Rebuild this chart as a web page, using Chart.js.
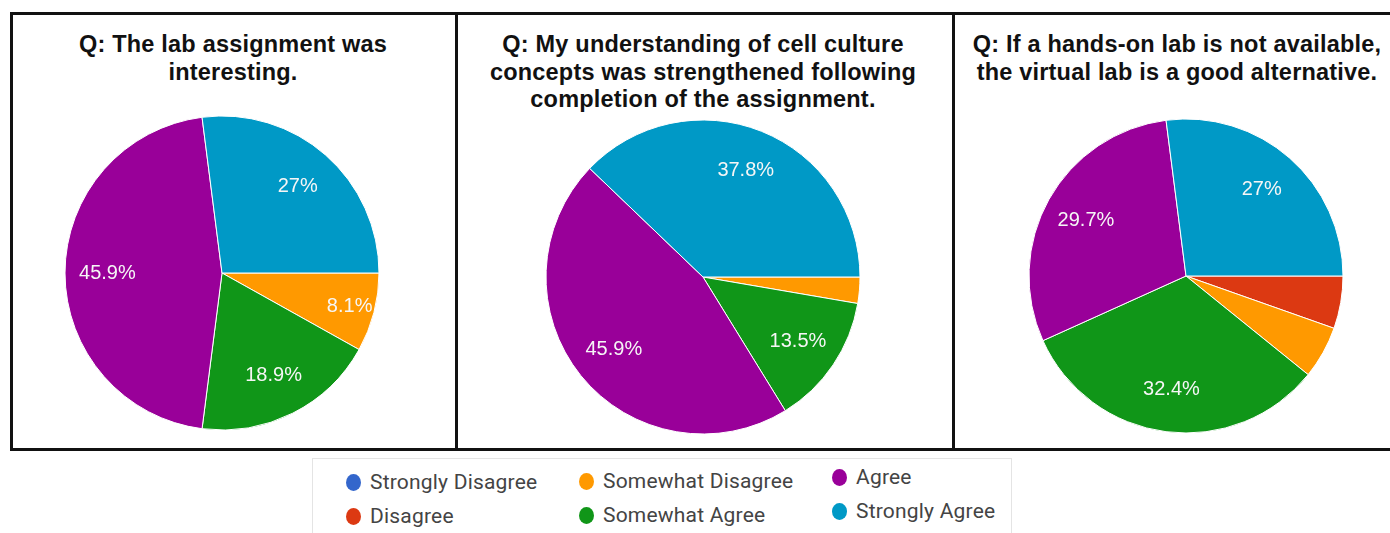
<!DOCTYPE html>
<html>
<head>
<meta charset="utf-8">
<script src="https://cdn.jsdelivr.net/npm/chart.js@4"></script>
<style>
  body { margin: 0; background: #fff; width: 1390px; height: 533px; position: relative; overflow: hidden; font-family: "Liberation Sans", Arial, sans-serif; }
  .line { position: absolute; background: #111; }
  .title { position: absolute; font-weight: bold; font-size: 23.5px; letter-spacing: 0.2px; line-height: 27.5px; color: #111; text-align: center; white-space: nowrap; transform: translateX(-50%); }
  .pie { position: absolute; }
  .legend { position: absolute; left: 312px; top: 458px; width: 700px; height: 76px; border: 1px solid #e4e4e4; box-sizing: border-box; }
  .item { position: absolute; font-family: Roboto, "Liberation Sans", Arial, sans-serif; font-size: 21px; letter-spacing: 0.2px; color: #444; white-space: nowrap; line-height: 22px; }
  .dot { position: absolute; width: 15px; height: 17px; border-radius: 50%; left: -24px; top: 3px; }
</style>
</head>
<body>
<!-- panel frames -->
<div class="line" style="left:10px; top:12px; width:1380px; height:3px;"></div>
<div class="line" style="left:10px; top:448px; width:1380px; height:2.5px;"></div>
<div class="line" style="left:10px; top:12px; width:3px; height:438px;"></div>
<div class="line" style="left:455px; top:12px; width:2.5px; height:438px;"></div>
<div class="line" style="left:952px; top:12px; width:2.5px; height:438px;"></div>

<div id="titles"></div>
<canvas id="pie1" class="pie" width="340" height="340"></canvas>
<canvas id="pie2" class="pie" width="340" height="340"></canvas>
<canvas id="pie3" class="pie" width="340" height="340"></canvas>
<div class="legend" id="legend"></div>

<script>
// Answer categories (legend order, drawn clockwise from 3 o'clock)
const categories = ['Strongly Disagree', 'Disagree', 'Somewhat Disagree', 'Somewhat Agree', 'Agree', 'Strongly Agree'];
const colors = ['#3366cc', '#dc3912', '#ff9900', '#109618', '#990099', '#0099c6'];

// Percent of responses per question
const interesting = [0, 0, 8.1, 18.9, 45.9, 27];
const understanding = [0, 0, 2.7, 13.5, 45.9, 37.8];
const alternative = [0, 5.4, 5.4, 32.4, 29.7, 27];

const titles = [
    ['Q: The lab assignment was', 'interesting.'],
    ['Q: My understanding of cell culture', 'concepts was strengthened following', 'completion of the assignment.'],
    ['Q: If a hands-on lab is not available,', 'the virtual lab is a good alternative.']
];

// Panel layout
const panels = [
    { id: 'pie1', data: interesting, cx: 222, cy: 273, titleX: 233 },
    { id: 'pie2', data: understanding, cx: 703, cy: 277, titleX: 703 },
    { id: 'pie3', data: alternative, cx: 1186, cy: 276, titleX: 1177 }
];
const RADIUS = 157;

// Percent labels inside slices
const sliceLabels = {
    id: 'sliceLabels',
    afterDatasetsDraw(chart) {
        const ctx = chart.ctx;
        const values = chart.data.datasets[0].data;
        ctx.save();
        ctx.fillStyle = '#f6f6f6';
        ctx.font = '20px "Liberation Sans", Arial, sans-serif';
        ctx.textAlign = 'center';
        ctx.textBaseline = 'middle';
        chart.getDatasetMeta(0).data.forEach((arc, i) => {
            if (values[i] < 7) return;
            const mid = (arc.startAngle + arc.endAngle) / 2;
            const r = arc.outerRadius * (values[i] < 10 ? 0.84 : 0.73);
            ctx.fillText(values[i] + '%', arc.x + Math.cos(mid) * r, arc.y + Math.sin(mid) * r);
        });
        ctx.restore();
    }
};

function drawTitles() {
    const holder = document.getElementById('titles');
    panels.forEach((p, i) => {
        const div = document.createElement('div');
        div.className = 'title';
        div.style.left = p.titleX + 'px';
        div.style.top = '31px';
        div.innerHTML = titles[i].join('<br>');
        holder.appendChild(div);
    });
}

function drawPie(p) {
    const canvas = document.getElementById(p.id);
    canvas.style.left = (p.cx - 170) + 'px';
    canvas.style.top = (p.cy - 170) + 'px';
    new Chart(canvas.getContext('2d'), {
        type: 'pie',
        data: {
            labels: categories,
            datasets: [{
                data: p.data,
                backgroundColor: colors,
                borderColor: '#ffffff',
                borderWidth: 1,
                radius: RADIUS
            }]
        },
        options: {
            responsive: false,
            animation: false,
            rotation: 90,
            plugins: {
                legend: { display: false },
                tooltip: { enabled: false }
            }
        },
        plugins: [sliceLabels]
    });
}

// Shared legend: three columns of two
function drawLegend() {
    const legend = document.getElementById('legend');
    const cols = [
        { x: 57, y: 12 },
        { x: 290, y: 11 },
        { x: 543, y: 7 }
    ];
    categories.forEach((name, i) => {
        const col = cols[Math.floor(i / 2)];
        const item = document.createElement('div');
        item.className = 'item';
        item.style.left = col.x + 'px';
        item.style.top = (col.y + (i % 2) * 34) + 'px';
        item.innerHTML = '<span class="dot" style="background:' + colors[i] + '"></span>' + name;
        legend.appendChild(item);
    });
}

drawTitles();
panels.forEach(drawPie);
drawLegend();
</script>
</body>
</html>
